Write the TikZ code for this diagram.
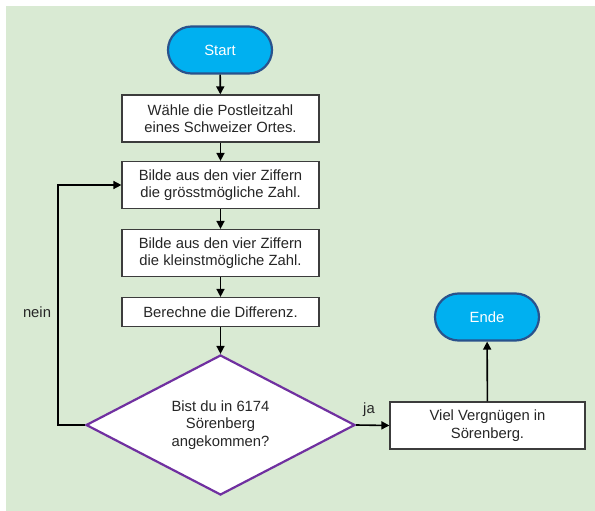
\documentclass[tikz,border=0pt]{standalone}
\usepackage{fontspec}
\setmainfont{Liberation Sans}
\usetikzlibrary{shapes.geometric,shapes.misc,arrows.meta}
\definecolor{bggreen}{RGB}{217,234,211}
\definecolor{termfill}{RGB}{0,176,240}
\definecolor{termline}{RGB}{41,82,140}
\definecolor{decline}{RGB}{112,48,160}
\definecolor{boxline}{RGB}{60,60,60}
\tikzset{
  every node/.style={font=\fontsize{14.8}{17.5}\selectfont, text=black!85},
  terminal/.style={rounded rectangle, fill=termfill, draw=termline, line width=2.2pt,
    minimum width=104pt, minimum height=47pt, text=white, inner sep=0pt},
  procbox/.style={rectangle, fill=white, draw=boxline, line width=1.2pt,
    minimum width=197pt, inner sep=0pt, align=center},
  decision/.style={diamond, fill=white, draw=decline, line width=2.2pt, aspect=1.92,
    minimum width=269pt, minimum height=140pt, inner sep=0pt, align=center},
  flow/.style={draw=black, line width=1.6pt, -{Triangle[length=8pt,width=8pt]}},
}
\begin{document}
\begin{tikzpicture}[x=1pt,y=-1pt]
  \useasboundingbox (0,0) rectangle (595,511);
  \fill[bggreen] (6,6) rectangle (595,511);

  \node[terminal] (start) at (220,50) {Start};
  \node[procbox, minimum height=47pt] (s1) at (220.5,118.5) {Wähle die Postleitzahl\\eines Schweizer Ortes.};
  \node[procbox, minimum height=47pt] (s2) at (220.5,185) {Bilde aus den vier Ziffern\\die grösstmögliche Zahl.};
  \node[procbox, minimum height=47pt] (s3) at (220.5,253) {Bilde aus den vier Ziffern\\die kleinstmögliche Zahl.};
  \node[procbox, minimum height=29pt] (s4) at (220.5,312) {Berechne die Differenz.};
  \node[decision] (q) at (220.5,425) {Bist du in 6174\\Sörenberg\\angekommen?};
  \node[procbox, minimum width=195pt, minimum height=47pt] (s5) at (487.5,425.5) {Viel Vergnügen in\\Sörenberg.};
  \node[terminal] (ende) at (487,317) {Ende};

  \coordinate (back) at (58,0);

  \draw[flow] (start) -- (s1);
  \draw[flow] (s1) -- (s2);
  \draw[flow] (s2) -- (s3);
  \draw[flow] (s3) -- (s4);
  \draw[flow] (s4) -- (q);
  \draw[flow] (q.east) -- (s5.west);
  \draw[flow] (s5) -- (ende);
  \draw[flow] (q.west) -| (back |- s2.west) -- (s2.west);

  \node (nein) at (37,312) {nein};
  \node (ja) at (369,410) {ja};
\end{tikzpicture}
\end{document}
